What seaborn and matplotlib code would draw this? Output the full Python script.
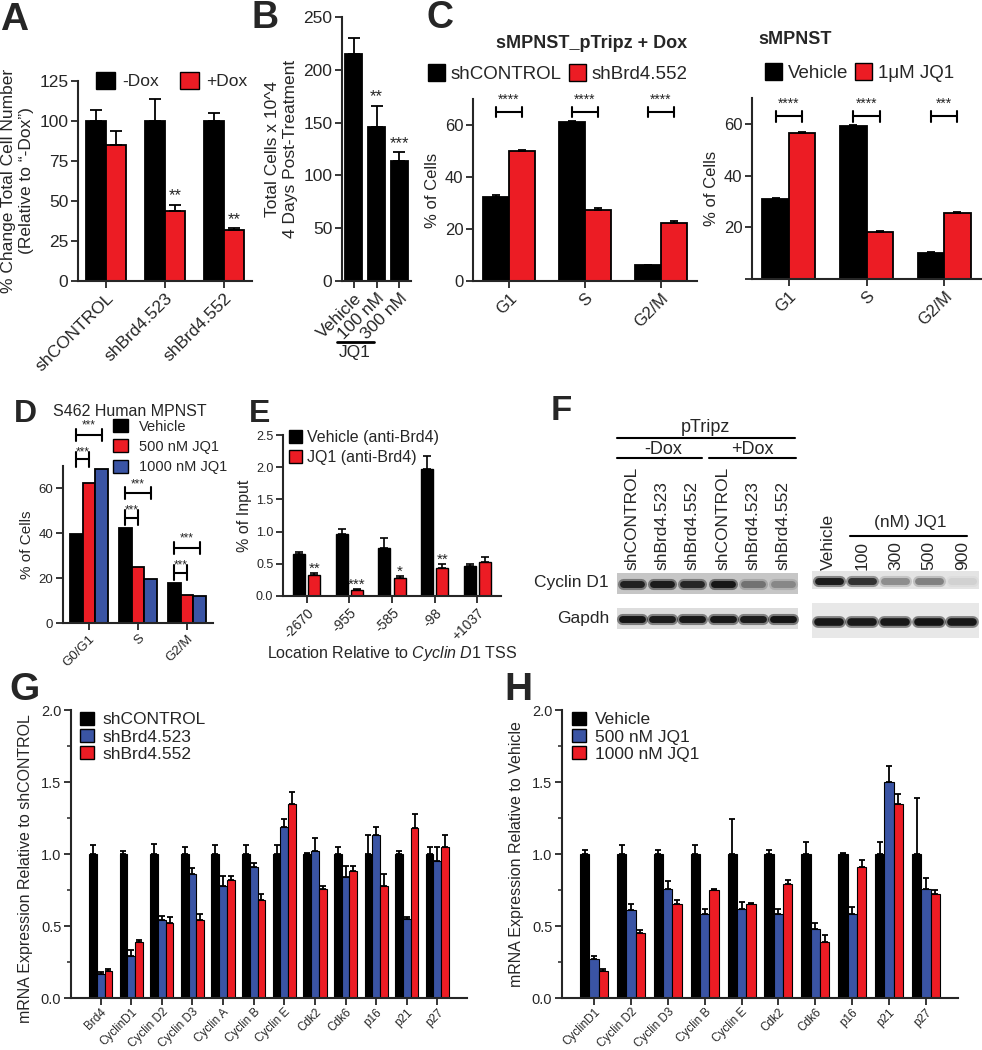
import numpy as np
import pandas as pd
import matplotlib.pyplot as plt
import seaborn as sns
from matplotlib.patches import Patch, Rectangle
from matplotlib.ticker import AutoMinorLocator

W, H = 982, 1050
BLACK = '#000000'
RED = '#ec1c24'
BLUE = '#3a54a4'

# ---- panel A : cell number
a_cats = ['shCONTROL', 'shBrd4.523', 'shBrd4.552']
a_groups = ['-Dox', '+Dox']
a_vals = [[100, 100, 100], [85, 43.5, 32]]
a_errs = [[7, 14, 5], [9, 4, 1]]
a_stars = [['', '', ''], ['', '**', '**']]

# ---- panel B : JQ1 cell count
b_cats = ['Vehicle', '100 nM', '300 nM']
b_groups = ['JQ1']
b_vals = [[215, 146, 114]]
b_errs = [[15, 20, 8]]
b_stars = [['', '**', '***']]

# ---- panel C : cell cycle
c_cats = ['G1', 'S', 'G2/M']
c1_groups = ['shCONTROL', 'shBrd4.552']
c1_vals = [[32.5, 61, 6], [50, 27.5, 22.5]]
c1_errs = [[0.6, 0.6, 0.3], [0.3, 0.4, 0.5]]
c1_sig = ['****', '****', '****']
c2_groups = ['Vehicle', '1\u03bcM JQ1']
c2_vals = [[31, 59, 10], [56.5, 18, 25.5]]
c2_errs = [[0.3, 0.4, 0.3], [0.3, 0.6, 0.5]]
c2_sig = ['****', '****', '***']

# ---- panel D : S462 cell cycle
d_cats = ['G0/G1', 'S', 'G2/M']
d_groups = ['Vehicle', '500 nM JQ1', '1000 nM JQ1']
d_vals = [[39.5, 42.5, 18], [62.5, 25, 12.5], [68.5, 19.5, 12]]
d_sig_short = ['***', '***', '***']
d_sig_long = ['***', '***', '***']

# ---- panel E : ChIP
e_cats = ['-2670', '-955', '-585', '-98', '+1037']
e_groups = ['Vehicle (anti-Brd4)', 'JQ1 (anti-Brd4)']
e_vals = [[0.65, 0.96, 0.74, 1.97, 0.47], [0.32, 0.09, 0.28, 0.43, 0.53]]
e_errs = [[0.03, 0.08, 0.16, 0.2, 0.03], [0.03, 0.02, 0.03, 0.06, 0.07]]
e_stars = [['', '', '', '', ''], ['**', '***', '*', '**', '']]

# ---- panel F : western blot band intensities
f_left_lanes = ['shCONTROL', 'shBrd4.523', 'shBrd4.552', 'shCONTROL', 'shBrd4.523', 'shBrd4.552']
f_right_lanes = ['Vehicle', '100', '300', '500', '900']
f_cyc_left = [0.85, 0.9, 0.8, 0.95, 0.35, 0.25]
f_gap_left = [0.95, 0.9, 0.92, 0.93, 0.9, 0.97]
f_cyc_right = [0.9, 0.75, 0.3, 0.35, 0.06]
f_gap_right = [0.95, 0.93, 0.93, 0.97, 0.95]

# ---- panel G : shRNA qPCR
g_cats = ['Brd4', 'CyclinD1', 'Cyclin D2', 'Cyclin D3', 'Cyclin A', 'Cyclin B',
          'Cyclin E', 'Cdk2', 'Cdk6', 'p16', 'p21', 'p27']
g_groups = ['shCONTROL', 'shBrd4.523', 'shBrd4.552']
g_vals = [[1.0] * 12,
          [0.17, 0.29, 0.54, 0.86, 0.78, 0.91, 1.19, 1.02, 0.84, 1.13, 0.55, 0.95],
          [0.19, 0.39, 0.52, 0.54, 0.82, 0.68, 1.35, 0.76, 0.88, 0.78, 1.18, 1.05]]
g_errs = [[0.06, 0.02, 0.07, 0.05, 0.06, 0.06, 0.06, 0.01, 0.05, 0.13, 0.02, 0.05],
          [0.01, 0.04, 0.03, 0.04, 0.07, 0.03, 0.05, 0.09, 0.08, 0.06, 0.01, 0.1],
          [0.01, 0.01, 0.04, 0.04, 0.03, 0.04, 0.08, 0.02, 0.04, 0.08, 0.1, 0.08]]

# ---- panel H : JQ1 qPCR
h_cats = ['CyclinD1', 'Cyclin D2', 'Cyclin D3', 'Cyclin B', 'Cyclin E',
          'Cdk2', 'Cdk6', 'p16', 'p21', 'p27']
h_groups = ['Vehicle', '500 nM JQ1', '1000 nM JQ1']
h_vals = [[1.0] * 10,
          [0.27, 0.61, 0.76, 0.58, 0.62, 0.58, 0.48, 0.58, 1.50, 0.76],
          [0.19, 0.45, 0.65, 0.75, 0.65, 0.79, 0.39, 0.91, 1.35, 0.72]]
h_errs = [[0.03, 0.06, 0.03, 0.06, 0.24, 0.03, 0.08, 0.01, 0.08, 0.39],
          [0.02, 0.04, 0.05, 0.04, 0.05, 0.04, 0.04, 0.05, 0.11, 0.07],
          [0.01, 0.02, 0.03, 0.005, 0.01, 0.03, 0.05, 0.05, 0.07, 0.03]]


sns.set_theme(style="ticks")
plt.rcParams['font.family'] = ['Liberation Sans', 'DejaVu Sans']
plt.rcParams['mathtext.fontset'] = 'custom'
plt.rcParams['mathtext.rm'] = 'Liberation Sans'
plt.rcParams['mathtext.it'] = 'Liberation Sans:italic'

fig = plt.figure(figsize=(W / 100, H / 100), dpi=100)


def px_axes(l, t, r, b):
    return fig.add_axes([l / W, 1 - b / H, (r - l) / W, (b - t) / H])


def draw_bars(ax, cats, groups, vals, colors, width, gap=0, lw=1.0):
    rows = [(c, g, v) for g, vs in zip(groups, vals) for c, v in zip(cats, vs)]
    df = pd.DataFrame(rows, columns=['cat', 'grp', 'val'])
    sns.barplot(data=df, x='cat', y='val', hue='grp', order=cats, hue_order=groups,
                palette=colors, width=width, gap=gap, saturation=1, errorbar=None,
                edgecolor='black', linewidth=lw, legend=False, ax=ax)


def add_err(ax, errs, lw=1.3, cap=4):
    for cont, es in zip(ax.containers, errs):
        xs = [p.get_x() + p.get_width() / 2 for p in cont]
        hs = [p.get_height() for p in cont]
        ax.errorbar(xs, hs, yerr=[np.zeros(len(es)), es], fmt='none', ecolor='black',
                    elinewidth=lw, capsize=cap, capthick=lw, zorder=3)


def add_stars(ax, errs, stars, fs, dy=1):
    for cont, es, ss in zip(ax.containers, errs, stars):
        for p, e, s in zip(cont, es, ss):
            if s:
                ax.annotate(s, (p.get_x() + p.get_width() / 2, p.get_height() + e),
                            xytext=(0, dy), textcoords='offset points',
                            ha='center', va='bottom', fontsize=fs)


def style(ax, fs, rot=45, xfs=None):
    sns.despine(ax=ax)
    for s in ['left', 'bottom']:
        ax.spines[s].set_linewidth(1.5)
    ax.tick_params(direction='out', length=5, width=1.3, labelsize=fs, pad=2)
    plt.setp(ax.get_xticklabels(), rotation=rot, ha='right', rotation_mode='anchor',
             fontsize=xfs or fs)
    ax.set_xlabel('')


def legend(ax, labels, colors, x, y, fs, ncol=1, **kw):
    handles = [Patch(facecolor=c, edgecolor='black', linewidth=1) for c in colors]
    ax.legend(handles, labels, loc='upper left', bbox_to_anchor=(x / W, 1 - y / H),
              bbox_transform=fig.transFigure, frameon=False, ncol=ncol, fontsize=fs,
              borderaxespad=0, borderpad=0, **kw)


def bracket(ax, x0, x1, y, h, text, fs, ty):
    ax.plot([x0, x1], [y, y], color='black', lw=1.5, clip_on=False)
    ax.plot([x0, x0], [y - h, y + h], color='black', lw=1.5, clip_on=False)
    ax.plot([x1, x1], [y - h, y + h], color='black', lw=1.5, clip_on=False)
    ax.text((x0 + x1) / 2, y + ty, text, ha='center', va='center', fontsize=fs, clip_on=False)


# ---------------- A
ax = px_axes(78, 81, 252, 281)
draw_bars(ax, a_cats, a_groups, a_vals, [BLACK, RED], 0.68, lw=1.3)
add_err(ax, a_errs)
add_stars(ax, a_errs, a_stars, 12)
ax.set_ylim(0, 125)
ax.set_yticks(range(0, 126, 25))
style(ax, 12.5)
ax.set_ylabel('% Change Total Cell Number\n(Relative to \u201c-Dox\u201d)', fontsize=12.5, labelpad=4)
legend(ax, a_groups, [BLACK, RED], 96, 72, 12.5, ncol=2, handlelength=1.1, handleheight=1.1,
       handletextpad=0.4, columnspacing=1.2)

# ---------------- B
ax = px_axes(342, 17, 411, 281)
draw_bars(ax, b_cats, b_groups, b_vals, [BLACK], 0.75, lw=1.3)
add_err(ax, b_errs)
add_stars(ax, b_errs, b_stars, 12)
ax.set_ylim(0, 250)
ax.set_yticks(range(0, 251, 50))
style(ax, 12.5)
ax.set_ylabel('Total Cells x 10^4\n4 Days Post-Treatment', fontsize=12.5, labelpad=4)

# ---------------- C (left and right)
for box, groups, vals, errs, sig, ylab0, title, tpos, lpos in [
        ((473, 99, 697, 281), c1_groups, c1_vals, c1_errs, c1_sig, '0',
         'sMPNST_pTripz + Dox', (592, 43), (428, 64)),
        ((752, 98, 981, 279), c2_groups, c2_vals, c2_errs, c2_sig, '',
         'sMPNST', (758, 40), (765, 63))]:
    ax = px_axes(*box)
    draw_bars(ax, c_cats, groups, vals, [BLACK, RED], 0.68, lw=1.3)
    add_err(ax, errs, cap=3)
    ax.set_ylim(0, 70)
    ax.set_yticks([0, 20, 40, 60])
    ax.set_yticklabels([ylab0, '20', '40', '60'])
    style(ax, 12)
    ax.set_ylabel('% of Cells', fontsize=12, labelpad=3)
    top = max(max(v) for v in vals) + 4
    for i, s in enumerate(sig):
        bracket(ax, i - 0.17, i + 0.17, top, 2.1, s, 10, 4.6)
    ha = 'center' if title.startswith('sMPNST_') else 'left'
    fig.text(tpos[0] / W, 1 - tpos[1] / H, title, ha=ha, va='center', fontsize=13,
             fontweight='bold')
    legend(ax, groups, [BLACK, RED], lpos[0], lpos[1], 13.5, ncol=2, handlelength=0.9,
           handleheight=1.0, handletextpad=0.3, columnspacing=0.4)

# ---------------- D
ax = px_axes(63, 466, 213, 623)
draw_bars(ax, d_cats, d_groups, d_vals, [BLACK, RED, BLUE], 0.78, lw=1.3)
ax.set_ylim(0, 70)
ax.set_yticks([0, 20, 40, 60])
style(ax, 9.5)
ax.set_ylabel('% of Cells', fontsize=11, labelpad=3)
bw = 0.78 / 3
for i in range(3):
    hi = max(v[i] for v in d_vals)
    bracket(ax, i - bw, i, hi + 4.4, 3.3, d_sig_short[i], 8.5, 3.3)
    bracket(ax, i - bw, i + bw, hi + 15.3, 2.7, d_sig_long[i], 8.5, 4.2)
fig.text(53 / W, 1 - 411 / H, 'S462 Human MPNST', ha='left', va='center', fontsize=11.5)
legend(ax, d_groups, [BLACK, RED, BLUE], 113, 419, 10.5, handlelength=1.0, handleheight=1.0,
       handletextpad=0.8, labelspacing=0.4)

# ---------------- E
ax = px_axes(283, 435, 501, 596)
draw_bars(ax, e_cats, e_groups, e_vals, [BLACK, RED], 0.72, gap=0.22, lw=1.0)
add_err(ax, e_errs, lw=1.2, cap=3)
add_stars(ax, e_errs, e_stars, 11, dy=-2)
ax.set_ylim(0, 2.5)
ax.set_yticks(np.arange(0, 2.51, 0.5))
style(ax, 9, xfs=10)
ax.set_ylabel('% of Input', fontsize=11.5, labelpad=3)
ax.set_xlabel('Location Relative to $\\it{Cyclin\\ D1}$ TSS', fontsize=11.5, labelpad=1)
legend(ax, e_groups, [BLACK, RED], 289, 430, 11.5, handlelength=0.8, handleheight=0.9,
       handletextpad=0.3, labelspacing=0.3)

# ---------------- G and H
for box, cats, groups, vals, errs, ylab, lpos, ly in [
        ((71, 710, 467, 998), g_cats, g_groups, g_vals, g_errs,
         'mRNA Expression Relative to shCONTROL', (80, 712), 0.45),
        ((562, 710, 958, 998), h_cats, h_groups, h_vals, h_errs,
         'mRNA Expression Relative to Vehicle', (572, 712), 0.5)]:
    ax = px_axes(*box)
    draw_bars(ax, cats, groups, vals, [BLACK, BLUE, RED], 0.76, lw=0.8)
    add_err(ax, errs, lw=1.3, cap=2.5)
    ax.set_ylim(0, 2.0)
    ax.set_yticks(np.arange(0, 2.01, 0.5))
    ax.yaxis.set_minor_locator(AutoMinorLocator(2))
    style(ax, 10.5, xfs=8.5)
    ax.tick_params(axis='x', pad=1)
    ax.tick_params(axis='y', which='minor', direction='out', length=3, width=1.1)
    ax.set_ylabel(ylab, fontsize=11.5)
    ax.yaxis.set_label_coords(-0.095, ly)
    legend(ax, groups, [BLACK, BLUE, RED], lpos[0], lpos[1], 12.5, handlelength=0.8,
           handleheight=0.75, handletextpad=0.5, labelspacing=0.1)

# ---------------- overlay: letters, blot, decorations
ov = fig.add_axes([0, 0, 1, 1])
ov.set_xlim(0, W)
ov.set_ylim(H, 0)
ov.axis('off')
ov.patch.set_alpha(0)

for letter, x, y, fs in [('A', 0, 30, 28), ('B', 252, 28, 27), ('C', 427, 28, 27),
                         ('D', 14, 422, 23), ('E', 249, 422, 23), ('F', 551, 420, 25),
                         ('G', 9, 700, 28), ('H', 504, 700, 28)]:
    ov.text(x, y, letter, fontsize=fs, fontweight='bold', ha='left', va='baseline')

# B: JQ1 bar under the treated lanes
ov.plot([337, 374], [342, 342], color='black', lw=2)
ov.text(355, 353, 'JQ1', ha='center', va='center', fontsize=12.5)

# F: headers
ov.text(705, 427, 'pTripz', ha='center', va='center', fontsize=13)
ov.plot([617, 795], [438, 438], color='black', lw=1.5)
ov.text(663, 449, '-Dox', ha='center', va='center', fontsize=13)
ov.text(752, 449, '+Dox', ha='center', va='center', fontsize=13)
ov.plot([617, 702], [458, 458], color='black', lw=1.5)
ov.plot([709, 796], [458, 458], color='black', lw=1.5)
ov.text(910, 522, '(nM) JQ1', ha='center', va='center', fontsize=12.5)
ov.plot([850, 967], [536, 536], color='black', lw=1.5)


def blot(x0, x1, y0, y1, bg, levels, band_w, band_y, lw):
    ov.add_patch(Rectangle((x0, y0), x1 - x0, y1 - y0, color=bg, lw=0))
    step = (x1 - x0) / len(levels)
    centers = x0 + step * (np.arange(len(levels)) + 0.5)
    for cx, lv in zip(centers, levels):
        ov.plot([cx - band_w / 2, cx + band_w / 2], [band_y, band_y], color='#111111',
                alpha=lv * 0.5, lw=lw + 3, solid_capstyle='round')
        ov.plot([cx - band_w / 2, cx + band_w / 2], [band_y, band_y], color='#111111',
                alpha=lv, lw=lw, solid_capstyle='round')
    return centers


left_c = blot(617, 798, 573, 594, '#c6c6c6', f_cyc_left, 18, 583.5, 5)
blot(617, 798, 608, 629, '#dddddd', f_gap_left, 20, 618.5, 5)
right_c = blot(812, 979, 571, 589, '#e4e4e4', f_cyc_right, 22, 580.5, 5)
blot(812, 979, 603, 638, '#e8e8e8', f_gap_right, 22, 622, 5.5)

for cx, lab in zip(left_c, f_left_lanes):
    ov.text(cx, 570, lab, rotation=90, ha='center', va='bottom', fontsize=12.5)
for cx, lab in zip(right_c, f_right_lanes):
    ov.text(cx, 570, lab, rotation=90, ha='center', va='bottom', fontsize=12.5)
ov.text(609, 583, 'Cyclin D1', ha='right', va='center', fontsize=12.5)
ov.text(609, 618, 'Gapdh', ha='right', va='center', fontsize=12.5)

fig.savefig('out.png', dpi=100)
